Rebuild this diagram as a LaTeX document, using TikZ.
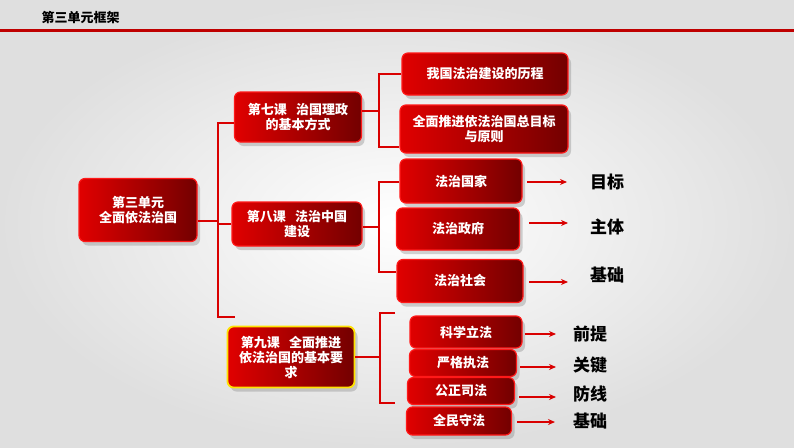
\documentclass[tikz,border=0pt]{standalone}
\usepackage{fontspec}
\newfontfamily\cjk{Noto Sans CJK SC}
\usetikzlibrary{shadows,arrows.meta}

\tikzset{
  lessonbox/.style={rounded corners=6pt, draw=red!90!white, line width=1.2pt,
    left color=red!88!black, right color=red!45!black, text=white,
    font=\cjk\bfseries\fontsize{13}{15}\selectfont, align=center, inner sep=0pt,
    drop shadow={opacity=0.35, shadow xshift=3pt, shadow yshift=-4pt}},
  brace/.style={draw=red!85!black, line width=1.3pt},
  pointer/.style={draw=red!85!black, line width=1.2pt, -{Stealth[length=7pt,width=6pt]}},
  keyword/.style={font=\cjk\bfseries\fontsize{17}{19}\selectfont, text=black},
}
\newcommand{\gap}{\hspace{0.7em}}

\begin{document}
\begin{tikzpicture}[x=1pt, y=-1pt]
  % Background and title bar
  \useasboundingbox (0,0) rectangle (794,447);
  \shade[inner color=white, outer color=gray!25] (0,0) rectangle (794,447);
  \node[font=\cjk\bfseries\fontsize{13}{15}\selectfont, anchor=west] (title) at (38,18) {第三单元框架};
  \fill[red!75!black] (0,29) rectangle (794,32);

  % Unit and lessons
  \node[lessonbox, minimum width=118pt, minimum height=63pt] (unit) at (138,210) {第三单元\\全面依法治国};
  \node[lessonbox, minimum width=127pt, minimum height=50pt] (les7) at (298,117) {第七课\gap 治国理政\\的基本方式};
  \node[lessonbox, minimum width=130pt, minimum height=44pt] (les8) at (297,224) {第八课\gap 法治中国\\建设};
  \node[lessonbox, draw=yellow!85!orange, line width=1.8pt, minimum width=127pt, minimum height=61pt] (les9) at (291,357) {第九课\gap 全面推进\\依法治国的基本要\\求};

  % Lesson 7 topics
  \node[lessonbox, minimum width=166pt, minimum height=42pt] (hist) at (485,74) {我国法治建设的历程};
  \node[lessonbox, minimum width=168pt, minimum height=48pt] (goal) at (484,129) {全面推进依法治国总目标\\与原则};

  % Lesson 8 topics
  \node[lessonbox, minimum width=122pt, minimum height=44pt] (state) at (461,181) {法治国家};
  \node[lessonbox, minimum width=123pt, minimum height=42pt] (gov) at (458,229) {法治政府};
  \node[lessonbox, minimum width=126pt, minimum height=43pt] (soc) at (460,281) {法治社会};

  % Lesson 9 topics
  \node[lessonbox, minimum width=112pt, minimum height=32pt] (law) at (466,332) {科学立法};
  \node[lessonbox, minimum width=107pt, minimum height=27pt] (exec) at (463,363) {严格执法};
  \node[lessonbox, minimum width=107pt, minimum height=27pt] (just) at (461,391) {公正司法};
  \node[lessonbox, minimum width=105pt, minimum height=28pt] (obey) at (459,421) {全民守法};

  % Keywords
  \node[keyword] (k1) at (607,182) {目标};
  \node[keyword] (k2) at (607,227) {主体};
  \node[keyword] (k3) at (607,275) {基础};
  \node[keyword] (k4) at (590,334) {前提};
  \node[keyword] (k5) at (590,365) {关键};
  \node[keyword] (k6) at (590,394) {防线};
  \node[keyword] (k7) at (590,421) {基础};

  % Brackets
  \draw[brace] (unit.east |- 0,221) -- (218,221);
  \draw[brace] (les7.west |- 0,123) -- (218,123) -- (218,317) -- (235,317);
  \draw[brace] (les8.west) -- (218,224);
  \draw[brace] (les7.east |- 0,111) -- (379,111);
  \draw[brace] (hist.west |- 0,74) -- (379,74) -- (379,147) -- (goal.west |- 0,147);
  \draw[brace] (les8.east |- 0,227) -- (379,227);
  \draw[brace] (state.west |- 0,182) -- (379,182) -- (379,272) -- (soc.west |- 0,272);
  \draw[brace] (les9.east) -- (380,357);
  \draw[brace] (395,313) -- (380,313) -- (380,403) -- (395,403);

  % Arrows
  \draw[pointer] (527,182) -- (k1.west -| 567,0);
  \draw[pointer] (529,223) -- (568,223);
  \draw[pointer] (529,282) -- (568,282);
  \draw[pointer] (law.east |- 0,334) ++(2,0) -- (556,334);
  \draw[pointer] (exec.east |- 0,367) ++(3,0) -- (556,367);
  \draw[pointer] (just.east |- 0,397) ++(4,0) -- (556,397);
  \draw[pointer] (obey.east |- 0,422) ++(5,0) -- (555,422);
\end{tikzpicture}
\end{document}
